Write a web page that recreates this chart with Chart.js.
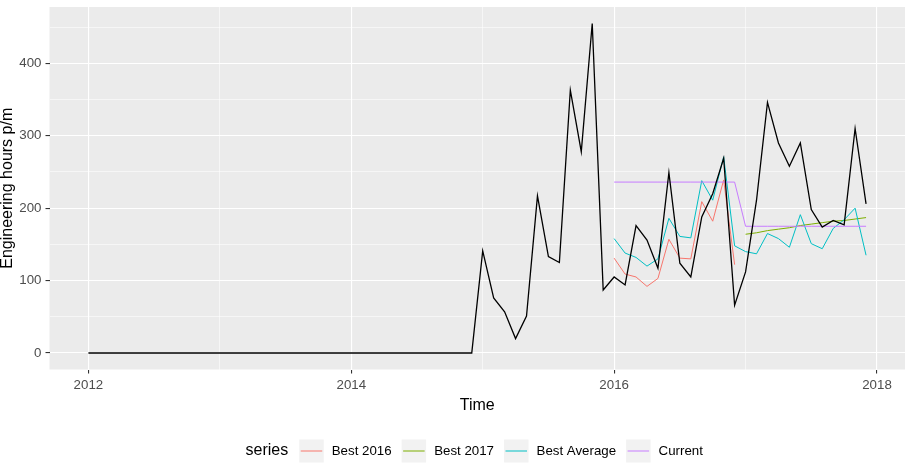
<!DOCTYPE html>
<html>
<head>
<meta charset="utf-8">
<script src="https://cdn.jsdelivr.net/npm/chart.js@4.4.1/dist/chart.umd.min.js"></script>
<style>
  body { margin: 0; background: #ffffff; }
  #hours-chart { display: block; }
</style>
</head>
<body>
<canvas id="hours-chart" width="906" height="470"></canvas>
<script>
Chart.defaults.font.family = "'Liberation Sans', Arial, sans-serif";

// monthly values, Jan 2012 .. Dec 2017
const startYear = 2012;
const actualHours = [
  0, 0, 0, 0, 0, 0, 0, 0, 0, 0, 0, 0,
  0, 0, 0, 0, 0, 0, 0, 0, 0, 0, 0, 0,
  0, 0, 0, 0, 0, 0, 0, 0, 0, 0, 0, 0,
  141, 76, 57, 20, 51, 217, 133, 125, 363, 278, 455, 87,
  105, 94, 176, 156, 117, 249, 124, 105, 188, 220, 269, 66,
  112, 211, 346, 290, 258, 290, 198, 174, 183, 177, 310, 206
];

// the forecast series start in Jan 2016
const seriesStartYear = 2016;
const best2016 = [131, 109, 105, 92, 103, 157, 131, 130, 209, 182, 239, 122];
const best2017 = [null, null, null, null, null, null, null, null, null, null, null, null,
  164, 166, 169, 171, 173, 176, 178, 180, 182, 183, 185, 187];
const bestAverage = [158, 138, 132, 120, 130, 186, 161, 159, 238, 211, 271, 148,
  140, 137, 165, 158, 146, 191, 151, 144, 172, 184, 200, 135];
const current = [236, 236, 236, 236, 236, 236, 236, 236, 236, 236, 236, 236,
  175, 175, 175, 175, 175, 175, 175, 175, 175, 175, 175, 175];

const yTicks = [0, 50, 100, 150, 200, 250, 300, 350, 400, 450];
const xTicks = [2012, 2013, 2014, 2015, 2016, 2017, 2018];

// legend order (ggplot draws them in this order too)
const legendItems = [
  { label: "Best 2016", color: "#F8766D", data: best2016 },
  { label: "Best 2017", color: "#7CAE00", data: best2017 },
  { label: "Best Average", color: "#00BFC4", data: bestAverage },
  { label: "Current", color: "#C77CFF", data: current }
];

const toPoints = (values, fromYear) =>
  values.map((v, i) => ({ x: fromYear + i / 12, y: v }));

const datasets = [
  {
    label: "Actual",
    data: toPoints(actualHours, startYear),
    borderColor: "#000000",
    borderWidth: 1.3
  }
];
// chart.js paints the first dataset on top, so reverse the legend order
legendItems.slice().reverse().forEach(item => {
  datasets.push({
    label: item.label,
    data: toPoints(item.data, seriesStartYear),
    borderColor: item.color,
    borderWidth: 1
  });
});

const panelBackground = {
  id: "panelBackground",
  beforeDraw(chart) {
    const { ctx, chartArea } = chart;
    ctx.save();
    ctx.fillStyle = "#ffffff";
    ctx.fillRect(0, 0, chart.width, chart.height);
    ctx.fillStyle = "#EBEBEB";
    ctx.fillRect(chartArea.left, chartArea.top, chartArea.right - chartArea.left, chartArea.bottom - chartArea.top);
    ctx.restore();
  }
};

// ggplot style legend under the plot
const bottomLegend = {
  id: "bottomLegend",
  afterDraw(chart) {
    const { ctx, chartArea } = chart;
    const titleFont = "16px 'Liberation Sans', Arial, sans-serif";
    const labelFont = "13.3px 'Liberation Sans', Arial, sans-serif";
    const keyW = 24.5, keyH = 23, centerY = 451;
    ctx.save();
    ctx.font = titleFont;
    const titleW = ctx.measureText("series").width;
    ctx.font = labelFont;
    let total = titleW + 11;
    legendItems.forEach((item, i) => {
      total += keyW + 8 + ctx.measureText(item.label).width;
      if (i < legendItems.length - 1) total += 10;
    });
    let x = (chartArea.left + chartArea.right) / 2 - total / 2 - 3;
    ctx.textBaseline = "middle";
    ctx.fillStyle = "#000000";
    ctx.font = titleFont;
    ctx.fillText("series", x, centerY);
    x += titleW + 11;
    ctx.font = labelFont;
    legendItems.forEach(item => {
      ctx.fillStyle = "#F2F2F2";
      ctx.fillRect(x, centerY - keyH / 2, keyW, keyH);
      ctx.strokeStyle = item.color;
      ctx.lineWidth = 1;
      ctx.beginPath();
      ctx.moveTo(x + 1.5, centerY);
      ctx.lineTo(x + keyW - 1.5, centerY);
      ctx.stroke();
      x += keyW + 8;
      ctx.fillStyle = "#000000";
      ctx.fillText(item.label, x, centerY);
      x += ctx.measureText(item.label).width + 10;
    });
    ctx.restore();
  }
};

const gridWidth = (major) => (major ? 1.1 : 0.55);

const ctx = document.getElementById("hours-chart").getContext("2d");
const hoursChart = new Chart(ctx, {
  type: "line",
  data: { datasets },
  options: {
    responsive: false,
    animation: false,
    layout: { padding: { left: 0, right: 1, top: 7, bottom: 50 } },
    elements: {
      point: { radius: 0 },
      line: { tension: 0, borderCapStyle: "butt", borderJoinStyle: "miter" }
    },
    plugins: {
      legend: { display: false },
      tooltip: { enabled: false }
    },
    scales: {
      x: {
        type: "linear",
        min: 2011.704,
        max: 2018.213,
        afterBuildTicks: (axis) => { axis.ticks = xTicks.map(v => ({ value: v })); },
        afterFit: (axis) => {
          axis.height = 50.5;
          axis.paddingLeft = 0;
          axis.paddingRight = 0;
        },
        border: { display: false },
        grid: {
          color: "#ffffff",
          lineWidth: (c) => gridWidth(c.tick && c.tick.value % 2 === 0),
          tickColor: (c) => (c.tick && c.tick.value % 2 === 0 ? "#333333" : "rgba(0,0,0,0)"),
          tickWidth: 1.1,
          tickLength: 4
        },
        ticks: {
          autoSkip: false,
          maxRotation: 0,
          padding: 4,
          color: "#4D4D4D",
          font: { size: 13.3 },
          callback: (v) => (v % 2 === 0 ? String(v) : "")
        },
        title: {
          display: true,
          text: "Time",
          color: "#000000",
          font: { size: 16, lineHeight: 1 },
          padding: { top: 0, bottom: 6 }
        }
      },
      y: {
        type: "linear",
        min: -22.75,
        max: 477.75,
        afterBuildTicks: (axis) => { axis.ticks = yTicks.map(v => ({ value: v })); },
        afterFit: (axis) => {
          axis.width = 49.5;
          axis.paddingTop = 0;
          axis.paddingBottom = 0;
        },
        border: { display: false },
        grid: {
          color: "#ffffff",
          lineWidth: (c) => gridWidth(c.tick && c.tick.value % 100 === 0),
          tickColor: (c) => (c.tick && c.tick.value % 100 === 0 ? "#333333" : "rgba(0,0,0,0)"),
          tickWidth: 1.1,
          tickLength: 4
        },
        ticks: {
          autoSkip: false,
          padding: 4,
          color: "#4D4D4D",
          font: { size: 13.3 },
          callback: (v) => (v % 100 === 0 ? String(v) : "")
        },
        title: {
          display: true,
          text: "Engineering hours p/m",
          color: "#000000",
          font: { size: 16, lineHeight: 1 },
          padding: { top: 0, bottom: 0 }
        }
      }
    }
  },
  plugins: [panelBackground, bottomLegend]
});
</script>
</body>
</html>
